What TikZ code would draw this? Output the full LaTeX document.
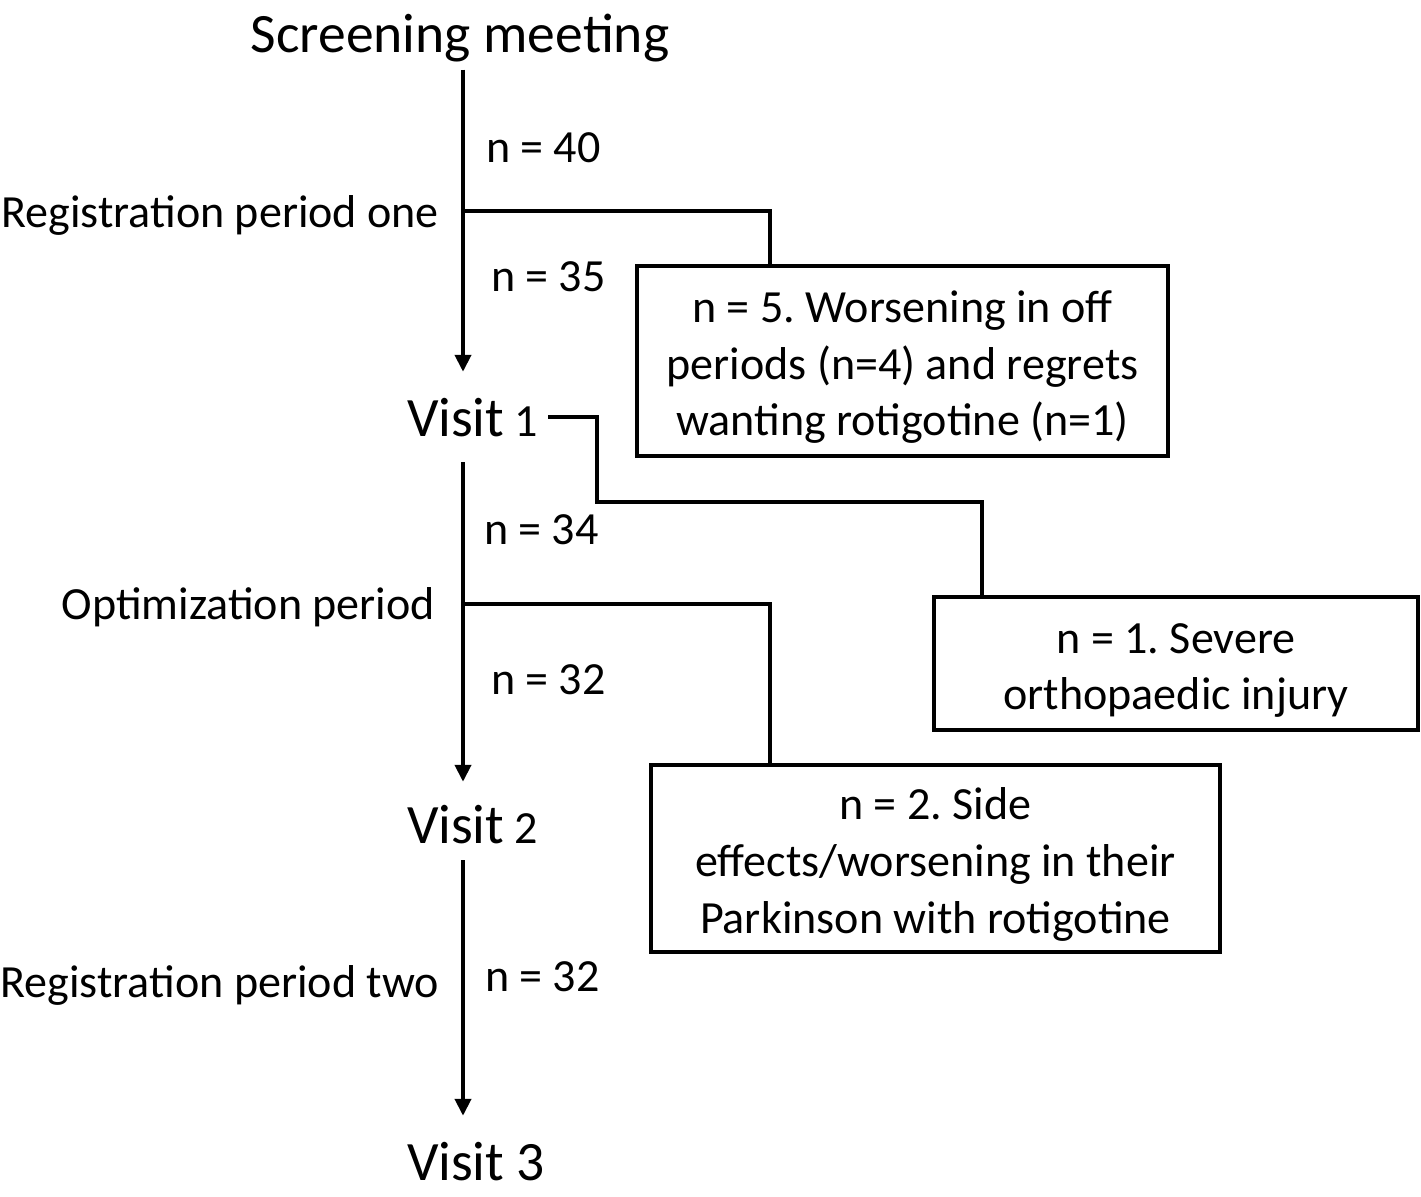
\documentclass[tikz,border=0pt]{standalone}
\usepackage{fontspec}
\setmainfont{Carlito}
\usetikzlibrary{arrows.meta}
\frenchspacing

\begin{document}
\begin{tikzpicture}[x=0.01cm,y=-0.01cm,
    line width=0.04cm,
    move/.style={-{Triangle[length=0.17cm,width=0.16cm]},draw},
    head/.style={inner sep=0,font=\fontsize{15.8}{19}\selectfont},
    lbl/.style={inner sep=0,font=\fontsize{13.1}{16.1}\selectfont},
    why/.style={draw,inner sep=0,align=flush center,text height=0.44cm,font=\fontsize{13.1}{16.1}\selectfont}]

    \useasboundingbox (0,0) rectangle (1421,1196);

    \node[head,anchor=base] (screen) at (460,52) {Screening meeting};
    \node[head,anchor=base west] (v1) at (405,436) {Visit{\fontsize{13.1}{16}\selectfont\ 1}};
    \node[head,anchor=base west] (v2) at (405,843) {Visit{\fontsize{13.1}{16}\selectfont\ 2}};
    \node[head,anchor=base west] (v3) at (405,1180) {Visit 3};

    \coordinate (j1) at (463,211);
    \coordinate (j2) at (463,604);

    \node[lbl,anchor=base east] (p1) at (441,227) {Registration period one};
    \node[lbl,anchor=base east] (p2) at (437,619) {Optimization period};
    \node[lbl,anchor=base east] (p3) at (441,997) {Registration period two};

    \node[lbl,anchor=base west] (n40) at (484,162) {n = 40};
    \node[lbl,anchor=base west] (n35) at (489,291) {n = 35};
    \node[lbl,anchor=base west] (n34) at (482,544) {n = 34};
    \node[lbl,anchor=base west] (n32a) at (489,694) {n = 32};
    \node[lbl,anchor=base west] (n32b) at (483,991) {n = 32};

    \node[why,minimum width=5.31cm,minimum height=1.90cm,text width=5.31cm] (b1) at (902.5,361)
        {n = 5. Worsening in off\\ periods (n=4) and regrets\\ wanting rotigotine (n=1)};
    \node[why,minimum width=4.84cm,minimum height=1.33cm,text width=4.84cm] (b2) at (1176,663.5)
        {n = 1. Severe\\ orthopaedic injury};
    \node[why,minimum width=5.69cm,minimum height=1.87cm,text width=5.69cm] (b3) at (935.5,858.5)
        {n = 2. Side\\ effects/worsening in their\\ Parkinson with rotigotine};

    \path[move,shorten <=0.06cm,shorten >=0.24cm] (screen.south -| j1) -- (v1.north -| j1);
    \path[move,shorten <=0.24cm,shorten >=0.21cm] (v1.south -| j1) -- (v2.north -| j1);
    \path[move,shorten <=0.15cm,shorten >=0.24cm] (v2.south -| j1) -- (v3.north -| j1);

    \draw (j1) -| ([xshift=1.35cm]b1.north west);
    \draw (j2) -| ([xshift=1.21cm]b3.north west);
    \draw ([xshift=0.08cm]v1.east) -| (597,502) -| ([xshift=0.5cm]b2.north west);

  \end{tikzpicture}
\end{document}
